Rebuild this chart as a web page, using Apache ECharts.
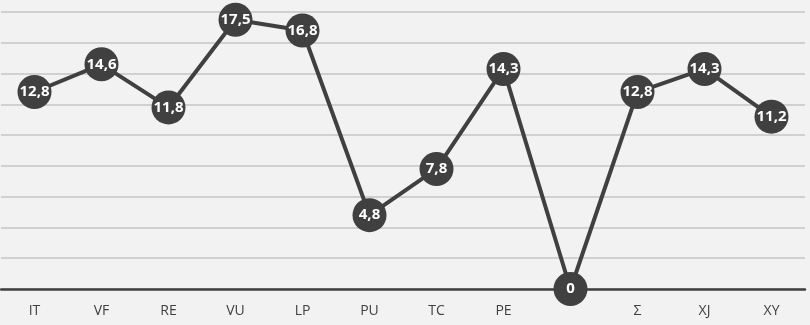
<!DOCTYPE html>
<html><head><meta charset="utf-8">
<script src="https://cdn.jsdelivr.net/npm/echarts@6/dist/echarts.min.js"></script>
<style>html,body{margin:0;padding:0;background:#f2f2f2}#c{width:810px;height:325px}</style>
</head><body><div id="c"></div>
<script>
const categories = ['IT','VF','RE','VU','LP','PU','TC','PE','','Σ','XJ','XY'];
const values = [12.8, 14.6, 11.8, 17.5, 16.8, 4.8, 7.8, 14.3, 0, 12.8, 14.3, 11.2];
const yMin = 0, yMax = 18, yStep = 2;

const chart = echarts.init(document.getElementById('c'));
chart.setOption({
  backgroundColor: '#f2f2f2',
  animation: false,
  grid: { left: 1, right: 5, top: 12, bottom: 36 },
  xAxis: {
    type: 'category', data: categories, boundaryGap: true,
    axisLine: { lineStyle: { color: '#404040', width: 2.5 } },
    axisTick: { show: false },
    axisLabel: { color: '#404040', fontFamily: 'Open Sans', fontSize: 14, margin: 15 }
  },
  yAxis: {
    type: 'value', min: yMin, max: yMax, interval: yStep,
    axisLabel: { show: false }, axisLine: { show: false }, axisTick: { show: false },
    splitLine: { lineStyle: { color: '#c4c4c4', width: 1.5 } }
  },
  series: [{
    type: 'line', data: values,
    symbol: 'circle', symbolSize: 34,
    lineStyle: { color: '#404040', width: 4 },
    itemStyle: { color: '#404040', borderWidth: 0 },
    label: {
      show: true, position: 'inside', color: '#ffffff',
      fontFamily: 'Open Sans', fontWeight: 'bold', fontSize: 15,
      formatter: p => String(p.value).replace('.', ',')
    },
    z: 3
  }]
});
</script></body></html>
